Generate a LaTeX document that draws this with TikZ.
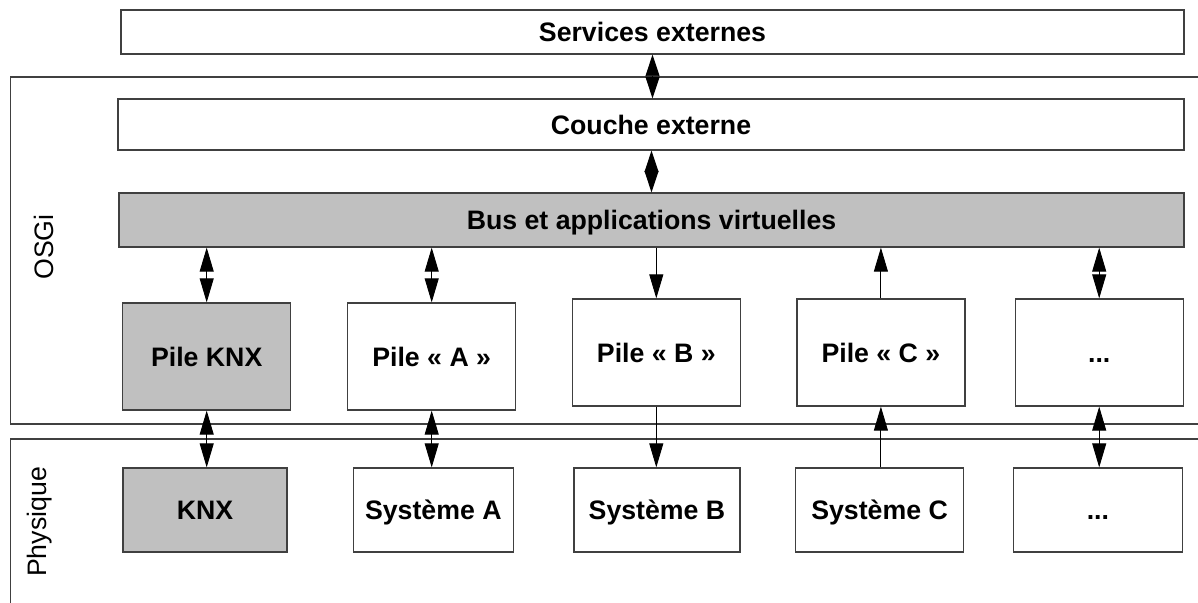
\documentclass[tikz,border=0pt]{standalone}
\usepackage{fontspec}
\setmainfont{Liberation Sans}
\usetikzlibrary{arrows.meta}
\begin{document}
\begin{tikzpicture}[x=1pt,y=-1pt,
  every node/.style={font=\fontsize{26.7}{30}\selectfont\bfseries},
  box/.style={draw=black!75,line width=1.3pt,fill=white,inner sep=0pt,rectangle,text height=19pt,text depth=0pt},
  graybox/.style={box,fill={rgb,255:red,192;green,192;blue,192}},
  frame/.style={draw=black!75,line width=1.3pt},
  lbl/.style={font=\fontsize{26.7}{30}\selectfont,rotate=90,inner sep=0pt},
  link/.style={line width=0.9pt,black},
  bi/.style={link,{Triangle[length=24pt,width=14pt]}-{Triangle[length=24pt,width=14pt]}},
  dia/.style={link,{Triangle[length=21.5pt,width=14pt]}-{Triangle[length=21.5pt,width=14pt]}},
  fwd/.style={link,-{Triangle[length=24pt,width=14pt]}}
]
\useasboundingbox (0,0) rectangle (1198,602);
\clip (0,0) rectangle (1198,602);
\fill[white] (0,0) rectangle (1198,602);
% outer frames
\draw[frame] (10.3,77) rectangle (1220,424);
\draw[frame] (10.3,439) rectangle (1220,640);
\node[lbl] (osgi) at (44,247) {OSGi};
\node[lbl] (phys) at (40,522) {Physique};
% top layers
\node[box,minimum width=1063pt,minimum height=44pt] (svc) at (652.5,32) {Services externes};
\node[box,minimum width=1066pt,minimum height=51pt] (couche) at (651,124.5) {Couche externe};
\node[graybox,minimum width=1065pt,minimum height=54pt] (bus) at (651.5,220) {Bus et applications virtuelles};
% piles
\node[graybox,minimum width=168pt,minimum height=107pt] (pknx) at (206.7,356.5) {Pile KNX};
\node[box,minimum width=168pt,minimum height=107pt] (pa) at (431.7,356.5) {Pile « A »};
\node[box,minimum width=168pt,minimum height=107pt] (pb) at (656.3,352.5) {Pile « B »};
\node[box,minimum width=168pt,minimum height=107pt] (pc) at (880.9,352.5) {Pile « C »};
\node[box,minimum width=168pt,minimum height=107pt] (pd) at (1099.2,352.5) {...};
% systems
\node[graybox,minimum width=164pt,minimum height=84pt] (knx) at (205.1,510) {KNX};
\node[box,minimum width=160pt,minimum height=84pt] (sa) at (433.3,510) {Système A};
\node[box,minimum width=166pt,minimum height=84pt] (sb) at (657,510) {Système B};
\node[box,minimum width=168pt,minimum height=84pt] (sc) at (879.6,510) {Système C};
\node[box,minimum width=169pt,minimum height=84pt] (sd) at (1097.9,510) {...};
% connectors
\draw[dia] (svc.south) -- (couche.north -| svc.south);
\draw[dia] (couche.south -| bus.north) -- (bus.north);
\draw[bi] (bus.south -| pknx.north) -- (pknx.north);
\draw[bi] (bus.south -| pa.north) -- (pa.north);
\draw[fwd] (bus.south -| pb.north) -- (pb.north);
\draw[fwd] (pc.north) -- (bus.south -| pc.north);
\draw[bi] (bus.south -| pd.north) -- (pd.north);
\draw[bi] (pknx.south) -- (pknx.south |- knx.north);
\draw[bi] (pa.south) -- (pa.south |- sa.north);
\draw[fwd] (pb.south) -- (pb.south |- sb.north);
\draw[fwd] (sc.north -| pc.south) -- (pc.south);
\draw[bi] (pd.south) -- (pd.south |- sd.north);
\end{tikzpicture}
\end{document}
